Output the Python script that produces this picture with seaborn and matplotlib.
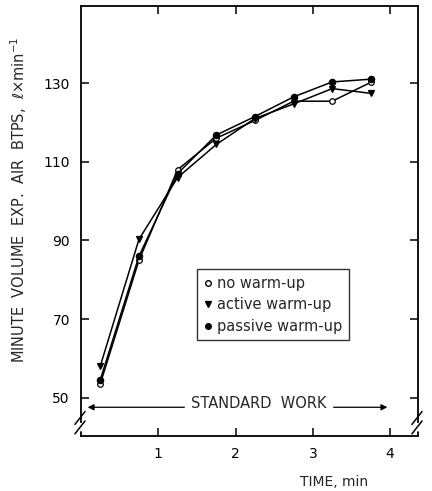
import matplotlib
matplotlib.use("Agg")
import matplotlib.pyplot as plt
from matplotlib.lines import Line2D
import seaborn as sns
import pandas as pd

sns.set_theme(style="ticks")
plt.rcParams['font.family'] = ['DejaVu Sans']

time_min = [0.25, 0.75, 1.25, 1.75, 2.25, 2.75, 3.25, 3.75]
no_warmup = [53.6, 85.0, 108.0, 116.0, 120.5, 125.4, 125.4, 130.2]
active_warmup = [58.1, 90.3, 106.0, 114.4, 121.0, 124.7, 128.6, 127.4]
passive_warmup = [54.6, 86.0, 107.0, 116.8, 121.5, 126.5, 130.3, 131.0]
series_labels = ["no warm-up", "active warm-up", "passive warm-up"]
x_ticks = [1, 2, 3, 4]
y_ticks = [50, 70, 90, 110, 130]

fig = plt.figure(figsize=(4.32, 4.91), dpi=100)
ax = fig.add_axes([81/432, 1-436/491, (418-81)/432, (436-6)/491])

df = pd.DataFrame({"t": time_min * 3,
                   "v": no_warmup + active_warmup + passive_warmup,
                   "s": [series_labels[0]]*8 + [series_labels[1]]*8 + [series_labels[2]]*8})

styles = {
    series_labels[0]: dict(marker="o", mfc="white", mec="black", ms=4),
    series_labels[1]: dict(marker="v", mfc="black", mec="black", ms=4),
    series_labels[2]: dict(marker="o", mfc="black", mec="black", ms=4.5),
}
for lab in series_labels:
    sub = df[df.s == lab]
    st = styles[lab]
    sns.lineplot(data=sub, x="t", y="v", ax=ax, color="black", lw=1.1,
                 marker=st["marker"], markerfacecolor=st["mfc"],
                 markeredgecolor=st["mec"], markersize=st["ms"],
                 markeredgewidth=0.9, legend=False, zorder=3)

ax.set_xlim(0, 4.36)
ax.set_ylim(40.3, 149.6)
ax.set_xticks(x_ticks)
ax.set_yticks(y_ticks)
ax.tick_params(direction="in", top=True, right=True, length=6, width=1.1,
               labelsize=10, colors="black", pad=8)
for sp in ax.spines.values():
    sp.set_linewidth(1.3)
    sp.set_color("black")

# broken axis at the bottom of the left and right spines
ax.spines["left"].set_bounds(43.9, 149.6)
ax.spines["right"].set_bounds(43.9, 149.6)
for xa in (0.0, 1.0):
    for dy in (0.0, 0.022):
        ax.plot([xa - 0.018, xa + 0.012], [0.005 + dy, 0.035 + dy], transform=ax.transAxes,
                color="black", lw=1.1, clip_on=False)
    ax.plot([xa, xa], [0.0, 0.01], transform=ax.transAxes, color="black", lw=1.3, clip_on=False)

# STANDARD WORK annotation
ax.annotate("", xy=(0.05, 47.6), xytext=(2.05, 47.6),
            arrowprops=dict(arrowstyle="-|>", color="black", lw=0.9, mutation_scale=9))
ax.annotate("", xy=(4.0, 47.6), xytext=(2.3, 47.6),
            arrowprops=dict(arrowstyle="-|>", color="black", lw=0.9, mutation_scale=9))
ax.text(2.3, 48.6, "STANDARD  WORK", ha="center", va="center", fontsize=10.5,
        backgroundcolor="white", zorder=4)

ax.set_xlabel("TIME, min", fontsize=10)
ax.xaxis.set_label_coords((334-81)/337, -0.09)
ax.set_ylabel("MINUTE  VOLUME  EXP.  AIR  BTPS,  \u2113\u00d7min$^{-1}$", fontsize=10.5)
ax.yaxis.set_label_coords(-0.155, 0.55)

handles = [Line2D([], [], ls="none", color="black", marker=styles[l]["marker"],
                  mfc=styles[l]["mfc"], mec="black", ms=4) for l in series_labels]
leg = ax.legend(handles, series_labels, loc="upper left", bbox_to_anchor=(0.323, 0.405),
                frameon=True, fancybox=False, edgecolor="black", fontsize=10.5,
                handlelength=0.6, handletextpad=0.3, borderpad=0.45, labelspacing=0.45)
leg.get_frame().set_linewidth(1.0)

fig.savefig("out.png", dpi=100)
